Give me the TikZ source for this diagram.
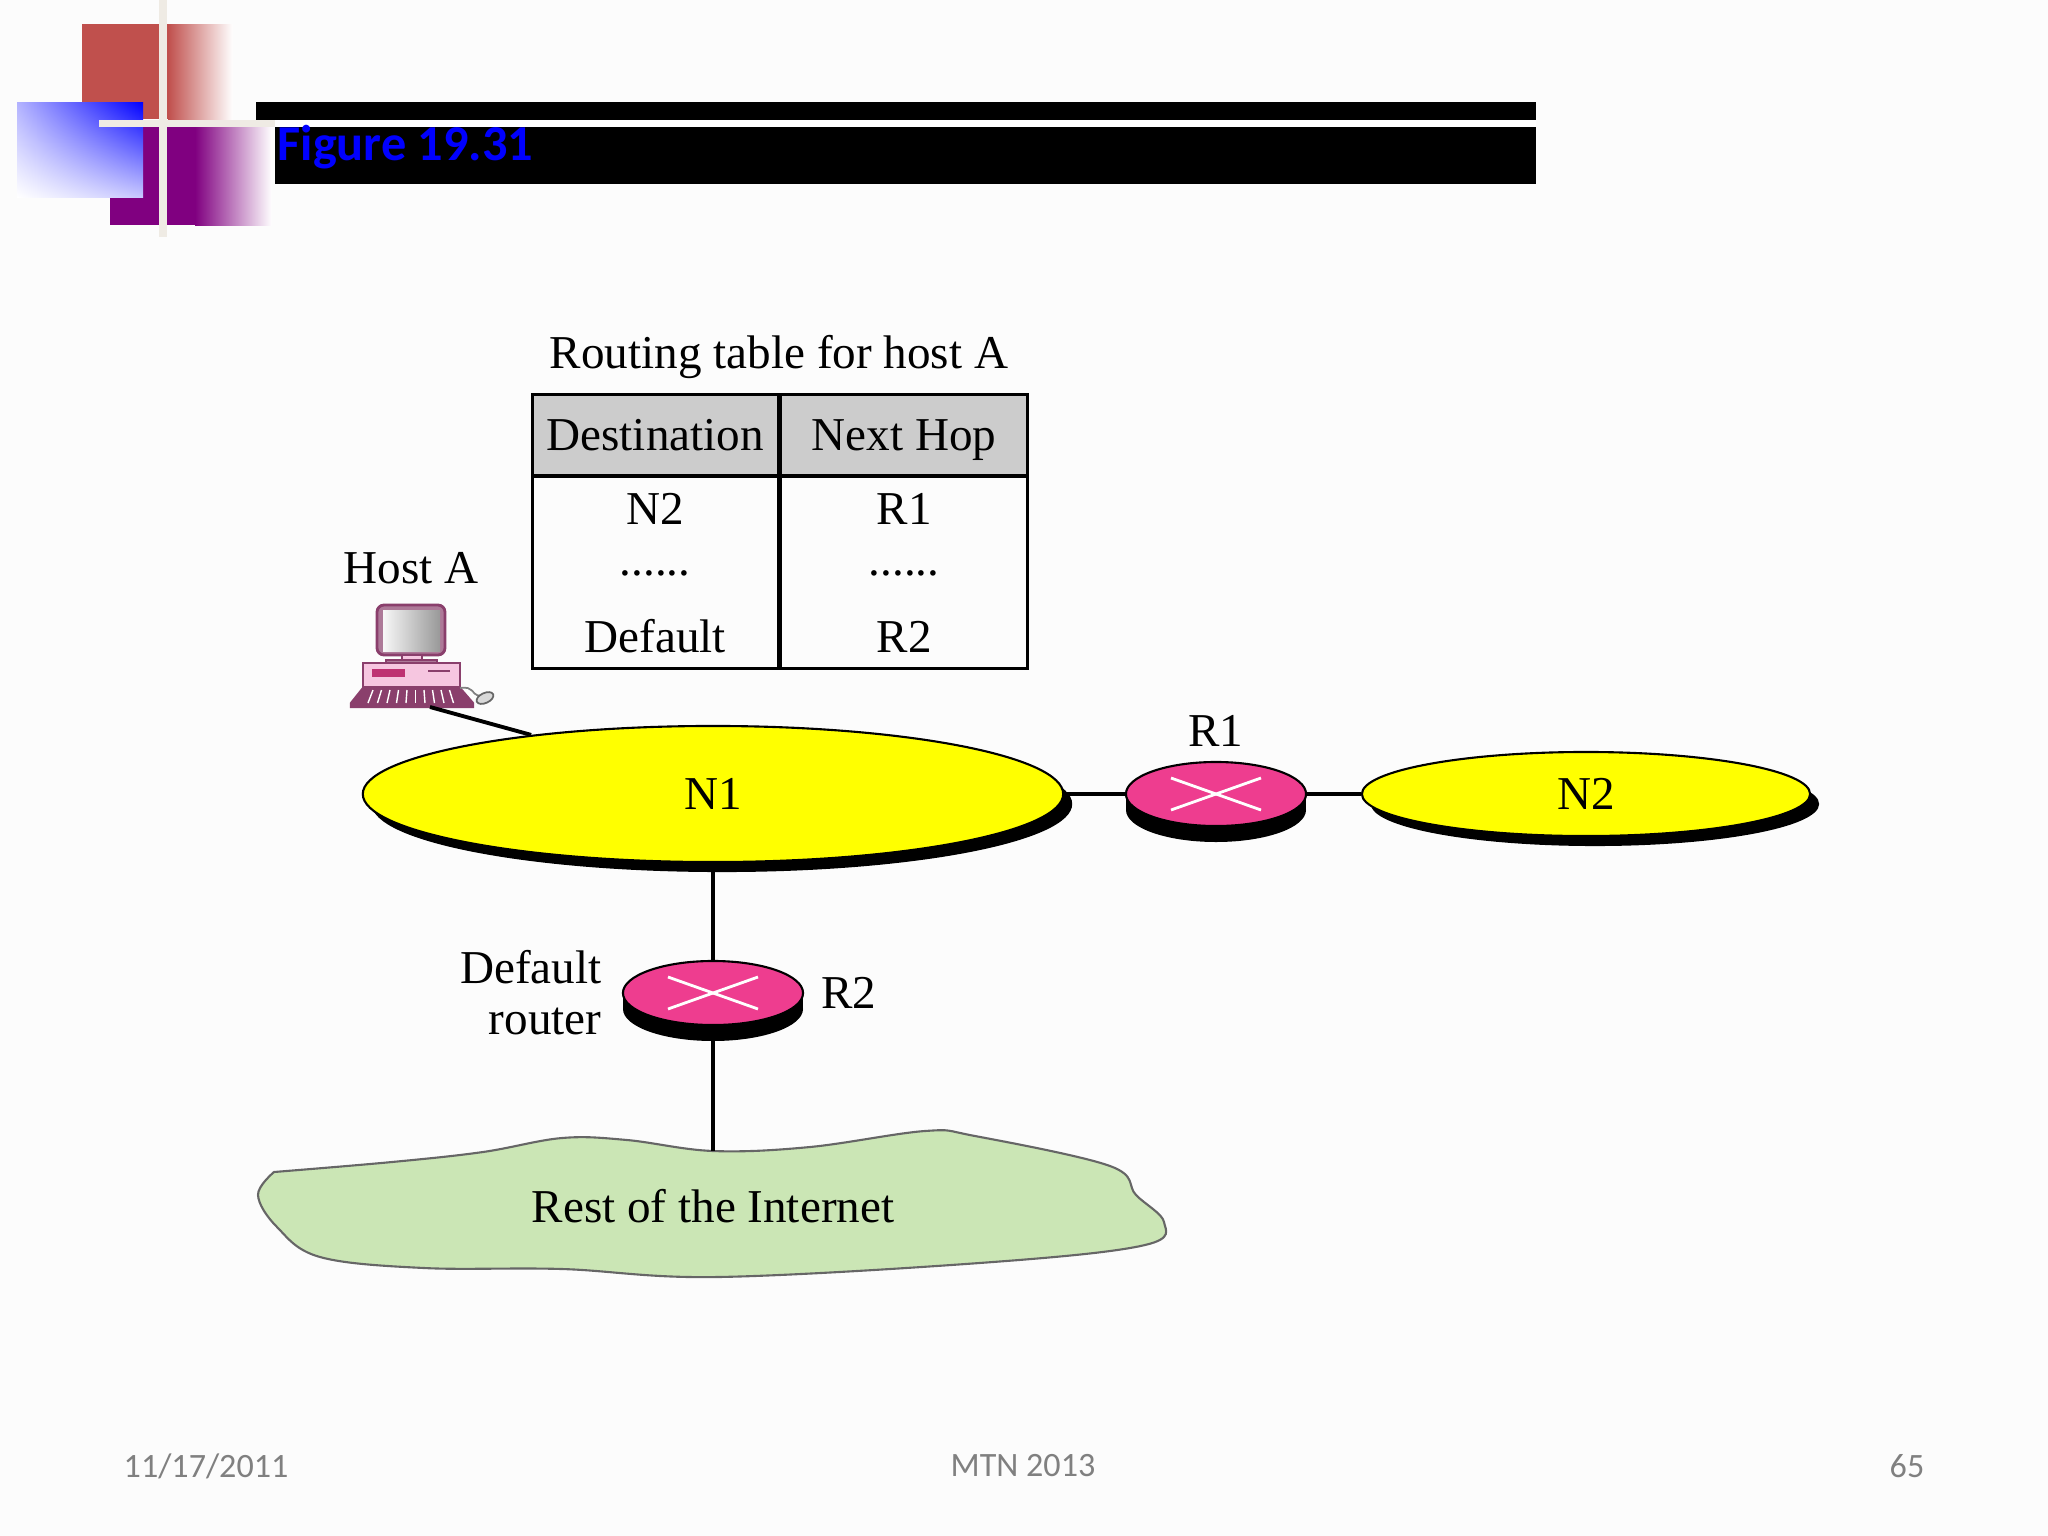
\documentclass[tikz,border=0pt]{standalone}
\usepackage{fontspec}
\setmainfont{Liberation Serif}
\newfontfamily\slidefont{Carlito}
\usetikzlibrary{matrix, positioning, shadows, shadings, shapes.geometric}
\definecolor{slidered}{HTML}{C0504D}
\definecolor{slidepurple}{HTML}{800080}
\definecolor{slidefade}{HTML}{B498B4}
\definecolor{slidebar}{HTML}{EFEBE4}
\definecolor{netpink}{HTML}{EE3D8F}
\definecolor{netyellow}{HTML}{FFFF00}
\definecolor{cloudgreen}{HTML}{CBE6B5}
\definecolor{pcpink}{HTML}{F6C6E0}
\definecolor{pcdark}{HTML}{8A3F6C}
\tikzset{
  net/.style = {draw, ellipse, fill=netyellow, line width=.6pt, inner sep=0pt,
    general shadow={fill=black, shadow xshift=.09cm, shadow yshift=-.1cm}},
  router/.style = {draw, ellipse, fill=netpink, line width=.6pt, inner sep=0pt,
    minimum width=1.8cm, minimum height=.64cm},
  link/.style = {line width=1.1pt},
  lbl/.style = {font=\fontsize{13.4}{16}\selectfont},
  foot/.style = {font=\slidefont\fontsize{9.7}{12}\selectfont, text=black!50}
}
\begin{document}
\begin{tikzpicture}[x=.01cm, y=-.01cm]
\fill[white!99!black] (0,0) rectangle (2048,1536);
% slide corner
\fill[slidered] (82,24) rectangle (168,119);
\shade[left color=slidered, right color=white] (168,24) rectangle (233,119);
\fill[slidepurple] (110,127) rectangle (195,225);
\shade[left color=slidepurple, middle color=slidefade, right color=white] (195,127) rectangle (272,225);
\shade[upper right=blue, upper left=blue!30, lower left=white, lower right=blue!22] (17,102) rectangle (143,197);
\fill (256,102) rectangle (1536,120);
\fill (275,127) rectangle (1536,184);
\fill[slidebar] (99,120) rectangle (275,127);
\fill[white] (275,120) rectangle (1536,127);
\fill[slidebar] (159,0) rectangle (167,237);
\node[anchor=base west, inner sep=0pt, text=blue, font=\slidefont\bfseries\fontsize{14.3}{16}\selectfont] (title) at (277,160) {Figure 19.31};
% table
\node[lbl] (tbltitle) at (779,357) {Routing table for host A};
\matrix (tbl) [matrix of nodes, anchor=north west, inner sep=0pt, column sep=0pt, row sep=0pt,
  nodes={lbl, anchor=center, minimum width=2.46cm, minimum height=.64cm, text height=10pt, text depth=1.2pt, outer sep=0pt, inner sep=0pt, line width=.8pt},
  row 1/.style={nodes={draw, fill=black!20, minimum height=.81cm}},
  row 3/.style={nodes={text height=1.5pt, text depth=0pt}}] at (530,392) {
Destination & Next Hop \\
N2 & R1 \\
...... & ...... \\
Default & R2 \\
};
\draw[line width=.8pt] (tbl-2-1.north west) rectangle (tbl-4-1.south east);
\draw[line width=.8pt] (tbl-2-2.north west) rectangle (tbl-4-2.south east);
% host
\node[lbl] (hosta) at (411,568) {Host A};
\draw[pcdark, line width=.8pt, fill=pcdark!70, rounded corners=2pt] (377,605) rectangle (445,655);
\shade[left color=black!3, right color=black!40] (383,610) rectangle (440,651);
\draw[pcdark, line width=.6pt, fill=pcpink] (402,655) rectangle (422,662);
\draw[pcdark, line width=.6pt, fill=pcdark!70] (386,660) rectangle (437,664);
\draw[pcdark, line width=.6pt, fill=pcpink] (363,663) rectangle (460,687);
\fill[netpink!80!black] (372,669) rectangle (405,677);
\draw[pcdark, line width=.8pt] (428,671) -- (450,671);
\draw[pcdark, line width=.6pt, fill=pcdark] (363,688) -- (460,688) -- (473,703) -- (473,707) -- (351,707) -- (351,703) -- cycle;
\foreach \k in {0,...,9}
  \draw[white, line width=.4pt] (373+\k*8.5,690) -- (368+\k*9.5,703);
\draw[black!50, line width=.5pt] (460,688) .. controls (475,686) and (470,694) .. (480,696);
\draw[black!60, fill=black!15, line width=.5pt, rotate around={25:(485,698)}] (485,698) ellipse [x radius=9, y radius=5];
\coordinate (pc) at (430,707);
% networks
\node[net, minimum width=7cm, minimum height=1.36cm, lbl] (N1) at (713,794) {N1};
\node[net, minimum width=4.48cm, minimum height=.84cm, lbl] (N2) at (1586,794) {N2};
\foreach \rname/\rx/\ry in {R1/1216/794, R2/713/993}{
  \fill (\rx-90,\ry) rectangle (\rx+90,\ry+16);
  \fill (\rx,\ry+16) ellipse [x radius=90, y radius=32];
  \node[router] (\rname) at (\rx,\ry) {};
  \draw[white, line width=.8pt] (\rx-45,\ry-16) -- (\rx+45,\ry+16);
  \draw[white, line width=.8pt] (\rx-45,\ry+16) -- (\rx+45,\ry-16);
}
\node[lbl, above=.02cm of R1] (r1lbl) {R1};
\node[lbl, right=.05cm of R2] (r2lbl) {R2};
\node[lbl, left=.08cm of R2, align=right] (deflbl) {Default\\[-1.5pt]router};
% rest of the internet
\draw[line width=.6pt, draw=black!60, fill=cloudgreen] plot[smooth, tension=.6] coordinates {(274,1172) (392,1162) (483,1152) (562,1138) (627,1140) (713,1151) (810,1147) (925,1131) (975,1136) (1110,1166) (1136,1195) (1164,1222) (1145,1245) (993,1262) (718,1277) (562,1269) (424,1268) (320,1257) (277,1227) (258,1195) (274,1172)} -- cycle;
\node[lbl] (rest) at (713,1206) {Rest of the Internet};
\coordinate (cloudtop) at (713,1151);
\draw[link] (pc) -- (N1.162);
\draw[link] (N1.east) -- (R1.west);
\draw[link] (R1.east) -- (N2.west);
\draw[link] (N1.south) -- (R2.north);
\draw[link] (R2.south) -- (cloudtop);
% footer
\node[foot, anchor=west, inner sep=0pt] (fdate) at (123,1466) {11/17/2011};
\node[foot, inner sep=0pt] (fmid) at (1023,1466) {MTN 2013};
\node[foot, anchor=east, inner sep=0pt] (fpage) at (1925,1466) {65};
\end{tikzpicture}
\end{document}
